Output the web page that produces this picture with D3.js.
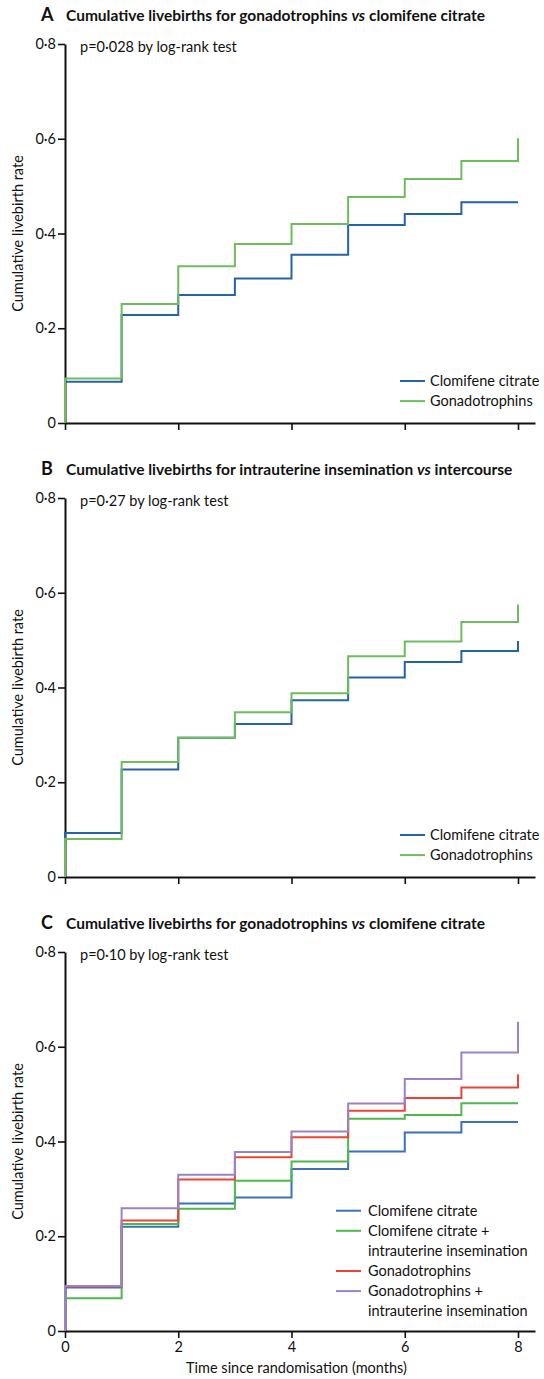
<!DOCTYPE html>
<html>
<head>
<meta charset="utf-8">
<script src="https://cdn.jsdelivr.net/npm/d3@7"></script>
<style>
  html, body { margin: 0; padding: 0; background: #fff; }
  svg { display: block; font-family: Lato, "Open Sans", sans-serif; }
</style>
</head>
<body>
<svg id="chart" width="544" height="1379"></svg>
<script>
// Months since randomisation (step times)
const months = [0, 1, 2, 3, 4, 5, 6, 7, 8];
const yTicks = [0, 0.2, 0.4, 0.6, 0.8];
const xTicks = [0, 2, 4, 6, 8];

// Panel A: cumulative livebirth rate after each monthly step
const clomA = [0.087, 0.228, 0.270, 0.305, 0.355, 0.418, 0.441, 0.466, 0.466];
const gonaA = [0.094, 0.251, 0.331, 0.378, 0.420, 0.477, 0.515, 0.553, 0.601];

// Panel B
const clomB = [0.093, 0.227, 0.294, 0.323, 0.373, 0.421, 0.454, 0.477, 0.498];
const gonaB = [0.080, 0.243, 0.294, 0.348, 0.388, 0.466, 0.497, 0.538, 0.575];

// Panel C
const clomC    = [0.092, 0.220, 0.269, 0.282, 0.342, 0.379, 0.419, 0.441, 0.441];
const clomIuiC = [0.069, 0.226, 0.258, 0.317, 0.358, 0.448, 0.456, 0.481, 0.481];
const gonaC    = [0.094, 0.233, 0.320, 0.367, 0.409, 0.465, 0.492, 0.514, 0.542];
const gonaIuiC = [0.095, 0.259, 0.330, 0.378, 0.421, 0.480, 0.532, 0.588, 0.653];

const panelLetters = ["A", "B", "C"];
const panelTitles = [
  ["Cumulative livebirths for gonadotrophins ", "vs", " clomifene citrate"],
  ["Cumulative livebirths for intrauterine insemination ", "vs", " intercourse"],
  ["Cumulative livebirths for gonadotrophins ", "vs", " clomifene citrate"]
];
const pTexts = ["p=0·028 by log-rank test", "p=0·27 by log-rank test", "p=0·10 by log-rank test"];

const colors = {
  blue: "#2462a9",
  green: "#6dbd5e",
  blueC: "#3a70bd",
  greenC: "#4fb84c",
  red: "#ef4236",
  purple: "#9a82c8"
};

const panels = [
  {
    series: [
      { name: ["Clomifene citrate"], values: clomA, color: colors.blue },
      { name: ["Gonadotrophins"], values: gonaA, color: colors.green }
    ],
    legendX: 400, legendY: 381
  },
  {
    series: [
      { name: ["Clomifene citrate"], values: clomB, color: colors.blue },
      { name: ["Gonadotrophins"], values: gonaB, color: colors.green }
    ],
    legendX: 400, legendY: 381
  },
  {
    series: [
      { name: ["Clomifene citrate"], values: clomC, color: colors.blueC },
      { name: ["Clomifene citrate +", "intrauterine insemination"], values: clomIuiC, color: colors.greenC },
      { name: ["Gonadotrophins"], values: gonaC, color: colors.red },
      { name: ["Gonadotrophins +", "intrauterine insemination"], values: gonaIuiC, color: colors.purple }
    ],
    legendX: 336, legendY: 302.7
  }
];

const svg = d3.select("#chart");
const fmt = d => d === 0 ? "0" : d3.format(".1f")(d).replace(".", "·");

const panelH = 454;
const x = d3.scaleLinear().domain([0, 8.3]).range([65, 535]);

panels.forEach((p, i) => {
  const top = i * panelH;
  const y = d3.scaleLinear().domain([0, 0.8]).range([423, 44]);
  const g = svg.append("g").attr("transform", `translate(0,${top})`);

  // Panel heading
  const title = g.append("text").attr("x", 41).attr("y", 20.5)
    .attr("font-size", 15.5).attr("font-weight", 700).attr("fill", "#111");
  title.append("tspan").attr("font-size", 18).text(panelLetters[i]);
  title.append("tspan").attr("x", 66).text(panelTitles[i][0]);
  title.append("tspan").attr("font-style", "italic").text(panelTitles[i][1]);
  title.append("tspan").text(panelTitles[i][2]);

  g.append("text").attr("x", 80).attr("y", 46.7).attr("dy", "0.35em")
    .attr("font-size", 14.5).attr("fill", "#111").text(pTexts[i]);

  // Axes
  const yAxis = g.append("g").attr("transform", "translate(65,0)")
    .call(d3.axisLeft(y).tickValues(yTicks).tickFormat(fmt).tickSize(7).tickSizeOuter(0));
  const xAxis = g.append("g").attr("transform", "translate(0,423)")
    .call(d3.axisBottom(x).tickValues(xTicks).tickFormat(i === 2 ? d3.format("d") : () => "")
      .tickSize(7).tickSizeOuter(0));
  [yAxis, xAxis].forEach(a => {
    a.select(".domain").attr("stroke", "#111").attr("stroke-width", 2);
    a.selectAll(".tick line").attr("stroke", "#111").attr("stroke-width", 1.6);
    a.selectAll(".tick text").attr("font-size", 14.5).attr("fill", "#111")
      .attr("font-family", "Lato, sans-serif");
  });
  yAxis.selectAll(".tick text").attr("x", -9);
  xAxis.selectAll(".tick text").attr("y", 11);

  g.append("text")
    .attr("transform", `translate(18,${(y(0) + y(0.8)) / 2}) rotate(-90)`)
    .attr("text-anchor", "middle").attr("dy", "0.35em")
    .attr("font-size", 14.5).attr("fill", "#111").text("Cumulative livebirth rate");

  if (i === 2) {
    g.append("text").attr("x", x(4) + 5).attr("y", 460).attr("dy", "0.35em")
      .attr("text-anchor", "middle").attr("font-size", 14.5).attr("fill", "#111")
      .text("Time since randomisation (months)");
  }

  // Step curves
  const line = d3.line().x(d => x(d[0])).y(d => y(d[1])).curve(d3.curveStepAfter);
  p.series.forEach(s => {
    const pts = [[0, 0]].concat(months.map((m, k) => [m, s.values[k]]));
    g.append("path").attr("d", line(pts)).attr("fill", "none")
      .attr("stroke", s.color).attr("stroke-width", 2).attr("stroke-linejoin", "miter");
  });

  // Legend
  let row = 0;
  p.series.forEach(s => {
    const ly = p.legendY + row * 20.1;
    g.append("line").attr("x1", p.legendX).attr("x2", p.legendX + 25)
      .attr("y1", ly).attr("y2", ly).attr("stroke", s.color).attr("stroke-width", 2);
    s.name.forEach((t, k) => {
      g.append("text").attr("x", p.legendX + (i === 2 ? 32 : 30)).attr("y", ly + k * 20.1)
        .attr("dy", "0.35em").attr("font-size", 14.5).attr("fill", "#111").text(t);
    });
    row += s.name.length;
  });
});
</script>
</body>
</html>
